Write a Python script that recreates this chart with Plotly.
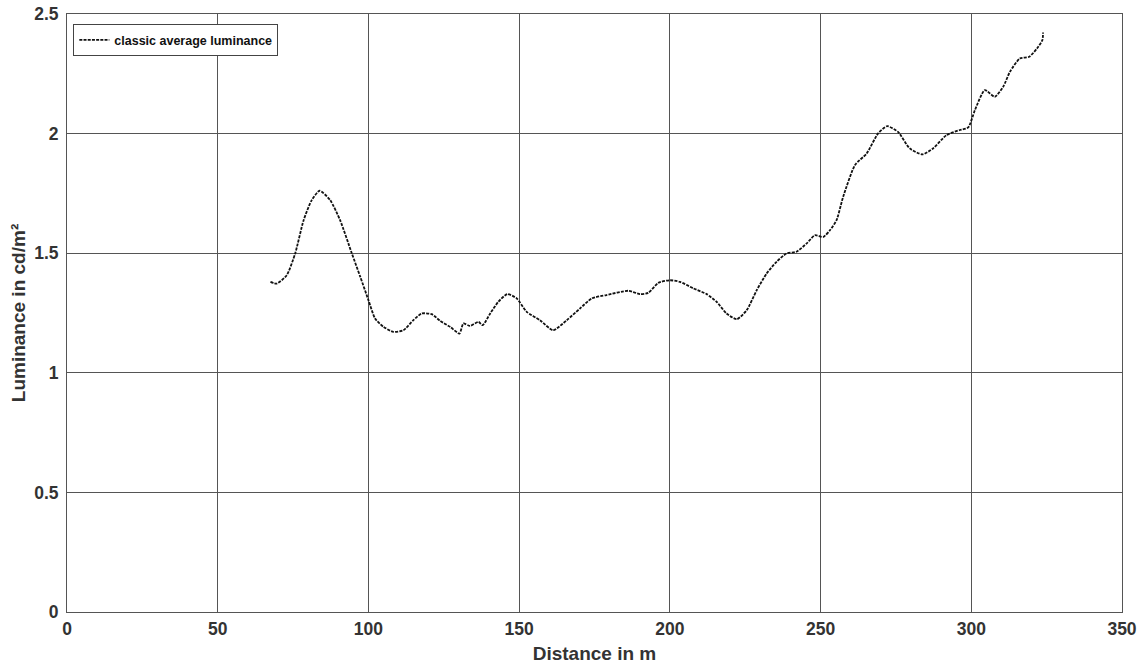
import plotly.graph_objects as go

distance_m = [67.5, 69.6, 72.9, 75.7, 78.5, 81.2, 83.8, 87.3, 90.6, 94.5, 97.3, 100.0, 102.2, 105.0,
              108.3, 111.6, 114.9, 117.7, 121.0, 123.8, 127.1, 130.2, 131.5, 133.7, 136.5, 137.9,
              140.4, 143.1, 146.1, 149.2, 152.5, 156.9, 161.3, 165.8, 170.2, 174.1, 179.0, 186.2,
              190.1, 192.8, 196.2, 200.0, 203.4, 207.8, 212.2, 215.5, 218.8, 222.2, 225.5, 228.8,
              232.1, 235.4, 238.7, 242.0, 245.4, 248.1, 250.9, 253.1, 255.3, 257.5, 261.4, 265.3,
              269.1, 272.1, 275.7, 279.6, 283.8, 287.3, 291.8, 296.2, 299.0, 301.2, 304.5, 307.8,
              310.6, 312.8, 316.1, 319.2, 321.8, 323.6, 323.8]
luminance = [1.380, 1.373, 1.408, 1.499, 1.638, 1.722, 1.761, 1.722, 1.638, 1.499, 1.401, 1.304,
             1.227, 1.192, 1.171, 1.178, 1.220, 1.248, 1.245, 1.217, 1.192, 1.164, 1.206, 1.196,
             1.213, 1.199, 1.248, 1.297, 1.329, 1.311, 1.255, 1.220, 1.178, 1.220, 1.269, 1.311,
             1.325, 1.343, 1.329, 1.334, 1.376, 1.387, 1.380, 1.353, 1.329, 1.297, 1.248, 1.224,
             1.262, 1.345, 1.415, 1.464, 1.499, 1.506, 1.541, 1.575, 1.568, 1.596, 1.638, 1.736,
             1.868, 1.917, 2.001, 2.031, 2.007, 1.938, 1.913, 1.938, 1.994, 2.015, 2.026, 2.098,
             2.182, 2.154, 2.196, 2.258, 2.314, 2.321, 2.356, 2.391, 2.423]

x_ticks = [0, 50, 100, 150, 200, 250, 300, 350]
y_ticks = [0, 0.5, 1, 1.5, 2, 2.5]
y_tick_labels = ["0", "0.5", "1", "1.5", "2", "2.5"]

FONT = "Liberation Sans, Arial, sans-serif"
GRID = "#555555"
TXT = "#333333"

fig = go.Figure()
fig.add_trace(go.Scatter(
    x=distance_m, y=luminance, mode="lines",
    name="classic average luminance",
    line=dict(color="#111111", width=1.8, dash="3px,1.2px", shape="spline", smoothing=0.6),
))

fig.update_layout(
    width=1147, height=668,
    margin=dict(l=67, r=25, t=14, b=56, autoexpand=False),
    paper_bgcolor="white", plot_bgcolor="white",
    font=dict(family=FONT, size=17, color=TXT, weight="bold"),
    showlegend=True,
    legend=dict(
        x=0.006, y=0.983, xanchor="left", yanchor="top",
        bgcolor="white", bordercolor="#444444", borderwidth=1,
        font=dict(family=FONT, size=12.5, color="#111111", weight="bold"),
        itemwidth=30, tracegroupgap=0,
    ),
    xaxis=dict(
        range=[0, 350], tickvals=x_ticks, ticks="", showgrid=True, gridcolor=GRID, gridwidth=1,
        showline=True, linecolor=GRID, linewidth=1, mirror=True, zeroline=False,
        automargin=False, ticklabelstandoff=1,
        title=dict(text="Distance in m", font=dict(size=19, color=TXT), standoff=8),
        tickfont=dict(size=17.5, color=TXT),
    ),
    yaxis=dict(
        range=[0, 2.5], tickvals=y_ticks, ticktext=y_tick_labels, ticks="", showgrid=True,
        gridcolor=GRID, gridwidth=1, automargin=False, ticklabelstandoff=4,
        showline=True, linecolor=GRID, linewidth=1, mirror=True, zeroline=False,
        title=dict(text="Luminance in cd/m²", font=dict(size=19, color=TXT), standoff=3),
        tickfont=dict(size=17.5, color=TXT),
    ),
)

fig.write_html("out.html", config={"displayModeBar": False},
               post_script="document.body.style.margin='0';document.body.style.overflow='hidden';")
